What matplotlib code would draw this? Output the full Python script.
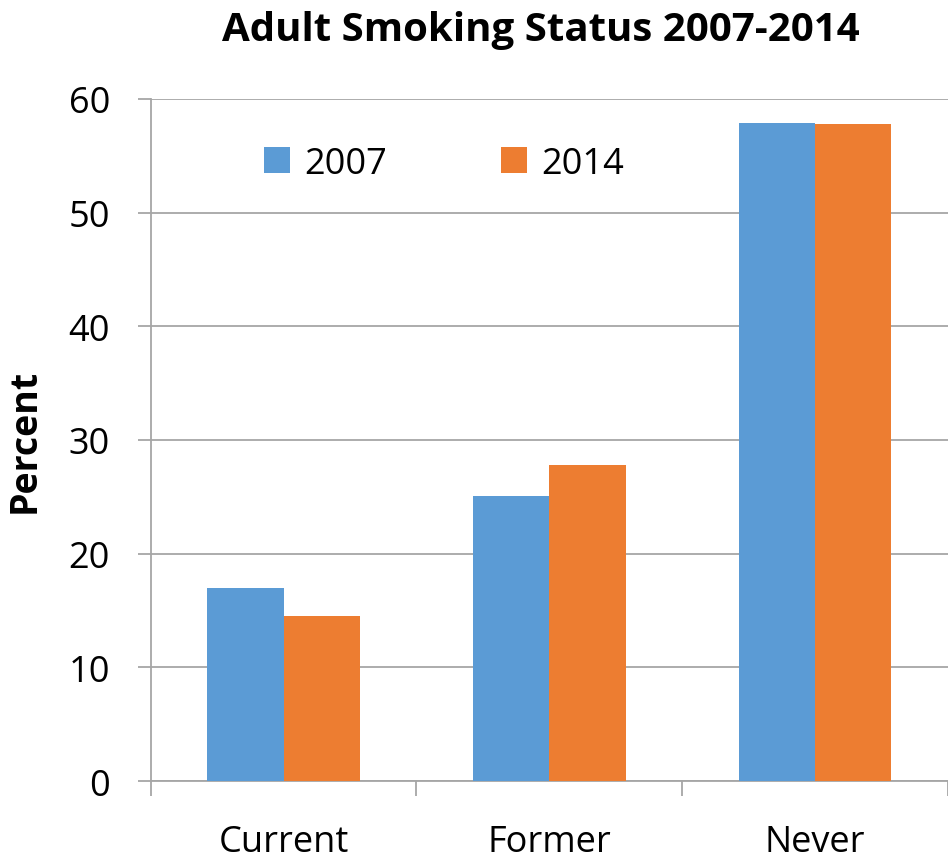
import numpy as np
import matplotlib.pyplot as plt

plt.rcParams['font.family'] = ['Open Sans', 'DejaVu Sans']

# Data
categories = ['Current', 'Former', 'Never']
years = ['2007', '2014']
pct_2007 = [17.0, 25.05, 57.9]
pct_2014 = [14.5, 27.8, 57.8]
yticks = [0, 10, 20, 30, 40, 50, 60]

blue = '#5B9BD5'
orange = '#ED7D31'
grid_col = '#A6A6A6'

fig = plt.figure(figsize=(9.48, 8.62), dpi=100)
ax = fig.add_axes([0.159, 0.0928, 0.841, 0.7912])

x = np.arange(len(categories))
w = 0.287
ax.bar(x - w / 2, pct_2007, width=w, color=blue, label=years[0], zorder=3)
ax.bar(x + w / 2, pct_2014, width=w, color=orange, label=years[1], zorder=3)

ax.set_xlim(-0.5, 2.5)
ax.set_ylim(0, 60)
ax.set_yticks(yticks)
ax.yaxis.grid(True, color=grid_col, linewidth=1.3, zorder=0)
ax.tick_params(axis='y', length=9.4, width=1.3, color=grid_col, pad=20, labelsize=26)

# category boundaries as major ticks, labels on minor ticks at centres
ax.set_xticks(np.arange(-0.5, 3.0, 1.0))
ax.set_xticklabels([])
ax.set_xticks(x, minor=True)
ax.set_xticklabels(categories, minor=True)
ax.tick_params(axis='x', which='major', length=10.8, width=1.3, color=grid_col)
ax.tick_params(axis='x', which='minor', length=0, pad=31, labelsize=26)

for s in ['top', 'right']:
    ax.spines[s].set_visible(False)
for s in ['left', 'bottom']:
    ax.spines[s].set_color(grid_col)
    ax.spines[s].set_linewidth(1.3)

ax.set_ylabel('Percent', fontsize=27, fontweight='bold', labelpad=18)
fig.text(0.570, 0.965, 'Adult Smoking Status 2007-2014', fontsize=29,
         fontweight='bold', ha='center', va='center')

ax.legend(loc='upper left', bbox_to_anchor=(0.101, 0.979), ncol=2, frameon=False,
          fontsize=26, handlelength=0.72, handleheight=0.72, handletextpad=0.4,
          columnspacing=3.15)

fig.savefig('out.png', dpi=100)
